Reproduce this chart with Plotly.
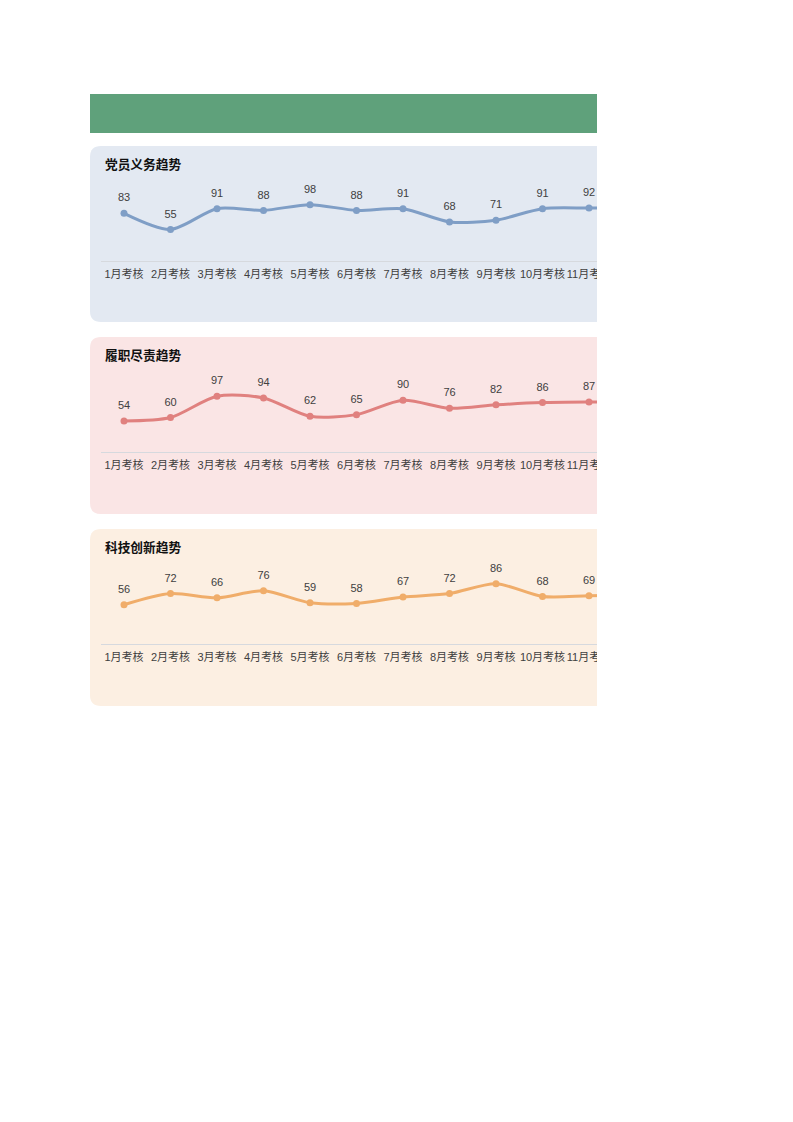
import plotly.graph_objects as go

months = ["1月考核", "2月考核", "3月考核", "4月考核", "5月考核", "6月考核",
          "7月考核", "8月考核", "9月考核", "10月考核", "11月考核", "12月考核"]
duty_values = [83, 55, 91, 88, 98, 88, 91, 68, 71, 91, 92, 92]
perform_values = [54, 60, 97, 94, 62, 65, 90, 76, 82, 86, 87, 87]
tech_values = [56, 72, 66, 76, 59, 58, 67, 72, 86, 68, 69, 70]
titles = ["党员义务趋势", "履职尽责趋势", "科技创新趋势"]
series = [duty_values, perform_values, tech_values]
y_max = [120, 120, 100]

# page has an 8px body margin; figure is sized so the page is exactly 793 wide
OFF = 8
W, H = 777, 1100
line_colors = ["#7f9ec6", "#e0817f", "#f0ad6a"]
panel_colors = ["#e3e9f2", "#fae5e5", "#fcefe2"]
panels = [(146, 322), (337, 514), (529, 706)]
plot_rows = [(192, 261), (383, 452), (574, 644)]
header_color = "#5fa17b"

FONT = "Liberation Sans, Arial, Noto Sans CJK SC, sans-serif"

def px(x):
    return (x - OFF) / W

def py(y):
    return 1 - (y - OFF) / H

fig = go.Figure()
shapes = []
annotations = []

# header band
shapes.append(dict(type="rect", xref="paper", yref="paper", layer="below",
                   x0=px(90), x1=px(597), y0=py(133), y1=py(94),
                   fillcolor=header_color, line=dict(width=0)))

def rounded_path(x0, y0, x1, y1, r):
    pts = [
        f"M {px(x0 + r)},{py(y0)}",
        f"L {px(x1 - r)},{py(y0)}",
        f"Q {px(x1)},{py(y0)} {px(x1)},{py(y0 + r)}",
        f"L {px(x1)},{py(y1 - r)}",
        f"Q {px(x1)},{py(y1)} {px(x1 - r)},{py(y1)}",
        f"L {px(x0 + r)},{py(y1)}",
        f"Q {px(x0)},{py(y1)} {px(x0)},{py(y1 - r)}",
        f"L {px(x0)},{py(y0 + r)}",
        f"Q {px(x0)},{py(y0)} {px(x0 + r)},{py(y0)}",
        "Z",
    ]
    return " ".join(pts)

step = 46.5
x_left = 100.75
x_right = x_left + 12 * step

for i in range(3):
    top, bottom = panels[i]
    shapes.append(dict(type="path", xref="paper", yref="paper", layer="below",
                       path=rounded_path(90, top, 700, bottom, 11),
                       fillcolor=panel_colors[i], line=dict(width=0)))
    annotations.append(dict(xref="paper", yref="paper", x=px(103), y=py(top + 18),
                            xanchor="left", yanchor="middle", showarrow=False,
                            text=f"<b>{titles[i]}</b>",
                            font=dict(family=FONT, size=12.7, color="#111111")))
    suffix = "" if i == 0 else str(i + 1)
    fig.add_trace(go.Scatter(
        x=months, y=series[i], mode="lines+markers",
        line=dict(color=line_colors[i], width=3, shape="spline", smoothing=0.8),
        marker=dict(color=line_colors[i], size=7),
        xaxis="x" + suffix, yaxis="y" + suffix, showlegend=False,
        cliponaxis=False, hoverinfo="skip"))
    # data labels (transparent larger markers push the text up)
    fig.add_trace(go.Scatter(
        x=months, y=series[i], mode="markers+text",
        text=[str(v) for v in series[i]], textposition="top center",
        textfont=dict(family=FONT, size=11, color="#404040"),
        marker=dict(color="rgba(0,0,0,0)", size=13),
        xaxis="x" + suffix, yaxis="y" + suffix, showlegend=False,
        cliponaxis=False, hoverinfo="skip"))
    t, b = plot_rows[i]
    d1 = min(1, px(x_right))
    fig.layout["xaxis" + suffix] = dict(
        domain=[px(x_left), d1], anchor="y" + suffix,
        type="category", range=[-0.5, -0.5 + (d1 - px(x_left)) * W / step],
        showgrid=False, zeroline=False, showline=True, linecolor="#d6d9de", linewidth=1,
        ticks="", tickangle=0, ticklabelstandoff=3,
        tickfont=dict(family=FONT, size=11, color="#404040"),
        fixedrange=True)
    fig.layout["yaxis" + suffix] = dict(
        domain=[py(b), py(t)], anchor="x" + suffix, range=[0, y_max[i]],
        showgrid=False, zeroline=False, showline=False, showticklabels=False,
        fixedrange=True)

# clip the right side like the reference (white area beyond x=597)
shapes.append(dict(type="rect", xref="paper", yref="paper", layer="above",
                   x0=px(597), x1=1, y0=0, y1=1,
                   fillcolor="white", line=dict(width=0)))

fig.update_layout(width=W, height=H, margin=dict(l=0, r=0, t=0, b=0),
                  paper_bgcolor="white", plot_bgcolor="rgba(0,0,0,0)",
                  shapes=shapes, annotations=annotations,
                  font=dict(family=FONT))

fig.write_html("out.html", config={"displayModeBar": False})
